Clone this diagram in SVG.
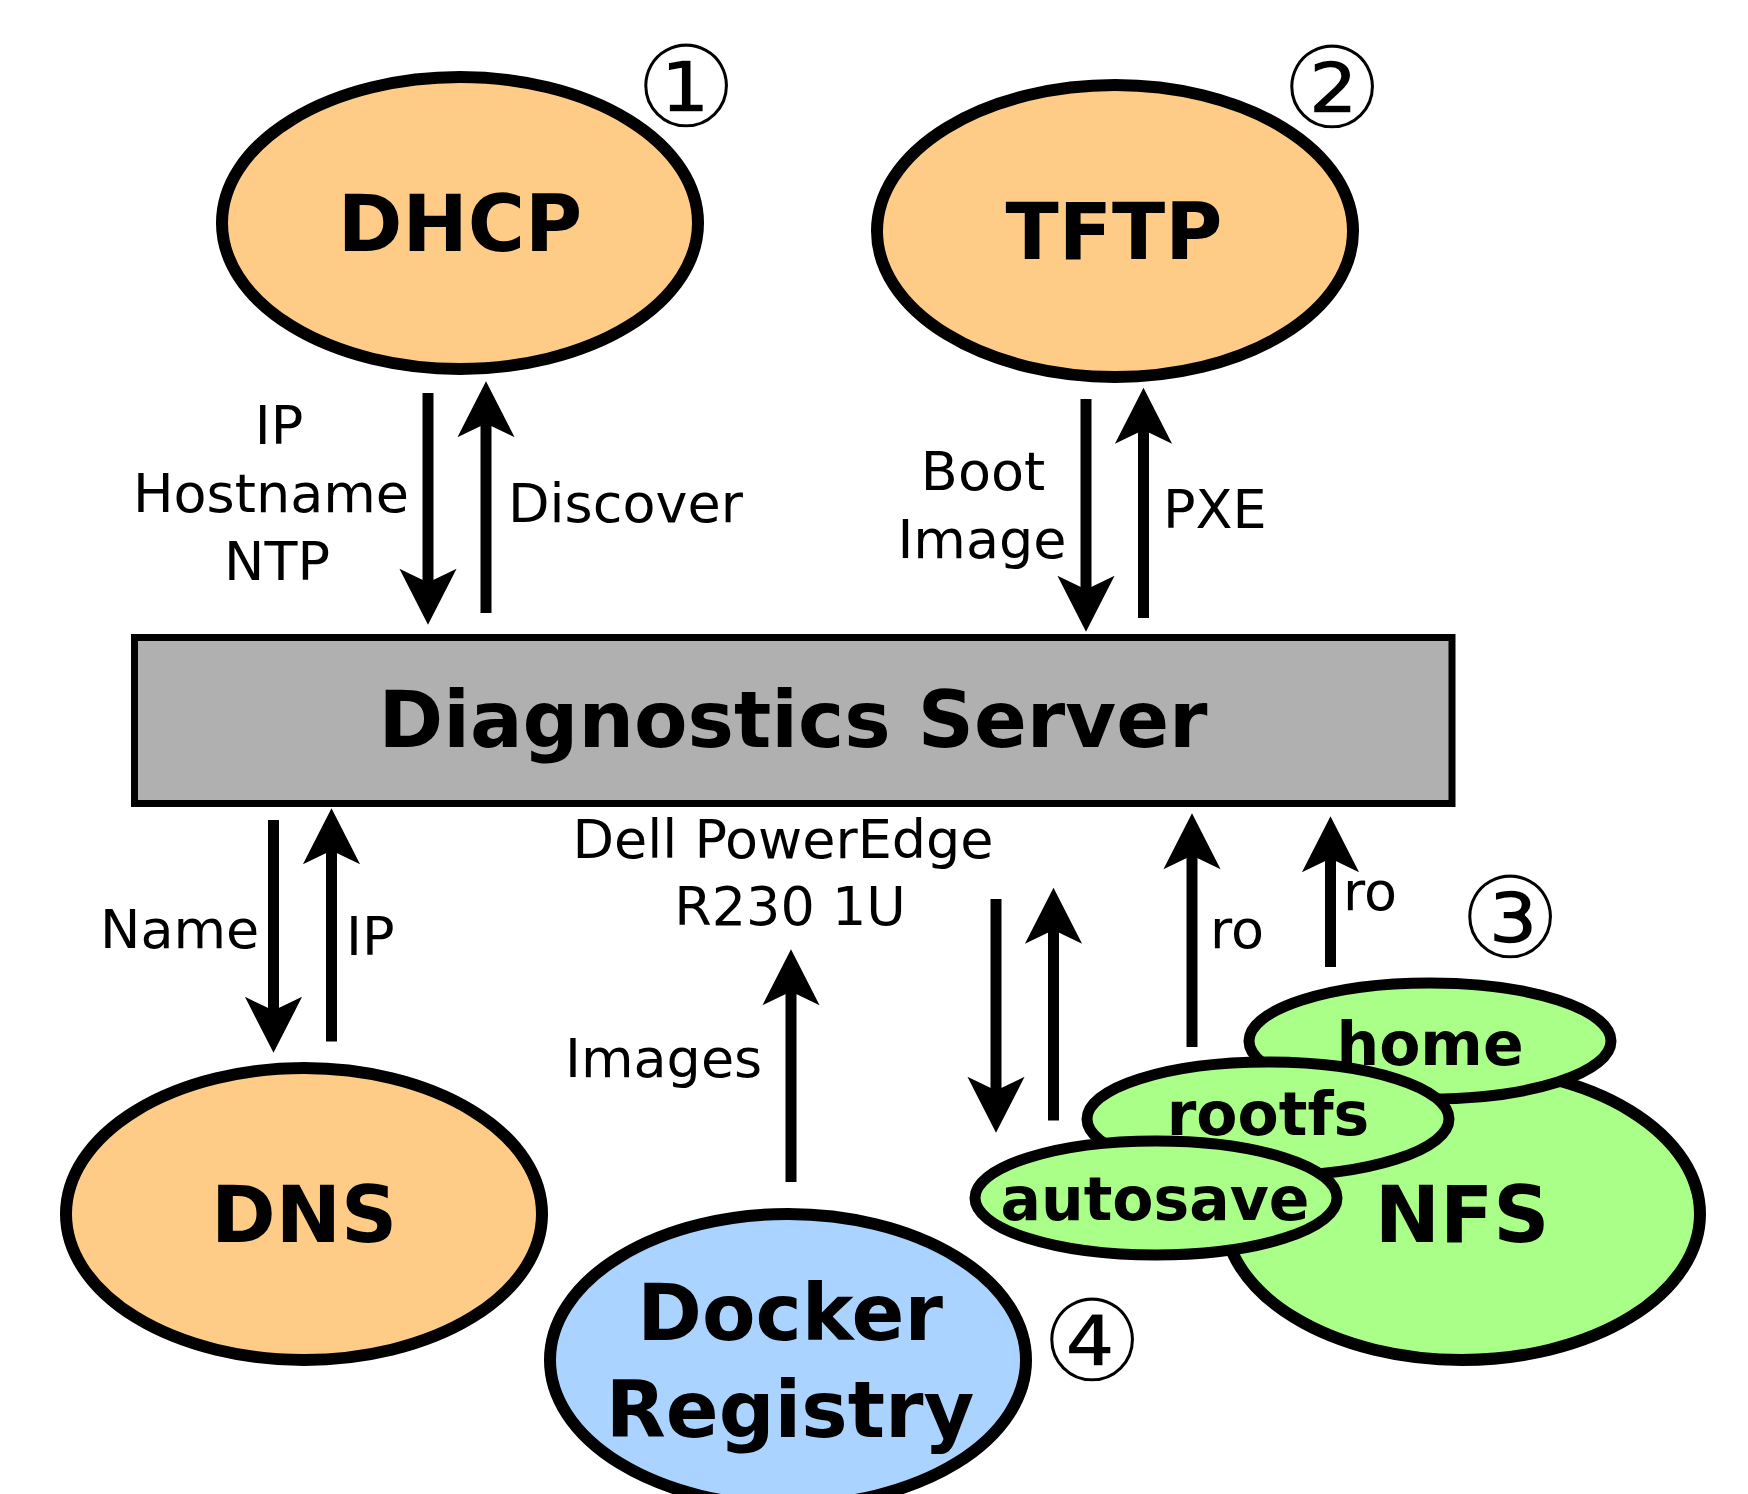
<svg xmlns="http://www.w3.org/2000/svg" width="1748" height="1494" viewBox="0 0 1748 1494">
<style>
.big{fill:#ffcc88;stroke:#000;stroke-width:12}
.blue{fill:#aad4ff;stroke:#000;stroke-width:12}
.green{fill:#aaff88;stroke:#000;stroke-width:12}
.sm{fill:#aaff88;stroke:#000;stroke-width:11}
.t{font-family:"DejaVu Sans",sans-serif;fill:#000}
.b78{font-size:78px;font-weight:bold;text-anchor:middle}
.b60{font-size:60px;font-weight:bold;text-anchor:middle}
.l{font-size:54px}
.m{text-anchor:middle}
.num{font-family:"DejaVu Sans",sans-serif;font-size:114px;text-anchor:middle;fill:#000;stroke:#fff;stroke-width:1.5}
.a{fill:none;stroke:#000;stroke-width:11;marker-end:url(#ah)}
</style>
<defs>
<marker id="ah" markerUnits="userSpaceOnUse" markerWidth="80" markerHeight="80" viewBox="-20 -30 70 60" refX="3" refY="0" orient="auto" overflow="visible">
<path d="M-12,-25 L37,0 L-12,25 L0,0 Z" fill="#000"/>
</marker>
</defs>
<rect width="1748" height="1494" fill="#fff"/>
<g id="dhcp">
<ellipse class="big" cx="460" cy="223" rx="238" ry="146"/>
<text class="t b78" x="460" y="251">DHCP</text>
</g>
<g id="tftp">
<ellipse class="big" cx="1115" cy="231" rx="238" ry="146"/>
<text class="t b78" x="1114" y="259">TFTP</text>
</g>
<g id="server">
<rect x="134.5" y="637.5" width="1317.5" height="166" fill="#b0b0b0" stroke="#000" stroke-width="7"/>
<text class="t b78" x="793" y="747">Diagnostics Server</text>
</g>
<g id="dns">
<ellipse class="big" cx="304" cy="1214" rx="238" ry="146"/>
<text class="t b78" x="304" y="1242">DNS</text>
</g>
<g id="docker">
<ellipse class="blue" cx="788" cy="1360" rx="238" ry="146"/>
<text class="t b78" x="790" y="1340">Docker</text>
<text class="t b78" x="790" y="1437">Registry</text>
</g>
<g id="nfs">
<ellipse class="green" cx="1462" cy="1214" rx="238" ry="146"/>
<text class="t b78" x="1462" y="1242">NFS</text>
</g>
<g id="home">
<ellipse class="sm" cx="1430" cy="1041" rx="181" ry="58"/>
<text class="t b60" x="1430" y="1065">home</text>
</g>
<g id="rootfs">
<ellipse class="sm" cx="1268" cy="1119" rx="181" ry="57"/>
<text class="t b60" x="1268" y="1135">rootfs</text>
</g>
<g id="autosave">
<ellipse class="sm" cx="1156" cy="1198" rx="181" ry="57"/>
<text class="t b60" x="1155" y="1220">autosave</text>
</g>
<g id="connectors">
<path class="a" d="M428,393 V586"/>
<path class="a" d="M486,613 V420"/>
<path class="a" d="M1086,399 V593"/>
<path class="a" d="M1143.5,618 V426.5"/>
<path class="a" d="M273.5,820 V1014"/>
<path class="a" d="M331.5,1041.5 V847"/>
<path class="a" d="M791,1182 V988"/>
<path class="a" d="M996,899 V1094"/>
<path class="a" d="M1053.5,1120.5 V926.5"/>
<path class="a" d="M1192,1047 V852"/>
<path class="a" d="M1330.5,967 V855"/>
</g>
<g id="labels" class="t l">
<text class="m" x="279" y="444">IP</text>
<text class="m" x="271" y="512">Hostname</text>
<text class="m" x="277" y="580">NTP</text>
<text x="508" y="522">Discover</text>
<text class="m" x="983" y="490">Boot</text>
<text class="m" x="982" y="558">Image</text>
<text x="1163" y="528">PXE</text>
<text x="100" y="948">Name</text>
<text x="346" y="955">IP</text>
<text class="m" x="783" y="858">Dell PowerEdge</text>
<text class="m" x="790" y="925">R230 1U</text>
<text x="565" y="1077">Images</text>
<text x="1210" y="948">ro</text>
<text x="1343" y="910">ro</text>
</g>
<g id="markers">
<text class="num" x="686" y="127">①</text>
<text class="num" x="1332" y="128">②</text>
<text class="num" x="1510" y="958">③</text>
<text class="num" x="1092" y="1381">④</text>
</g>
</svg>
